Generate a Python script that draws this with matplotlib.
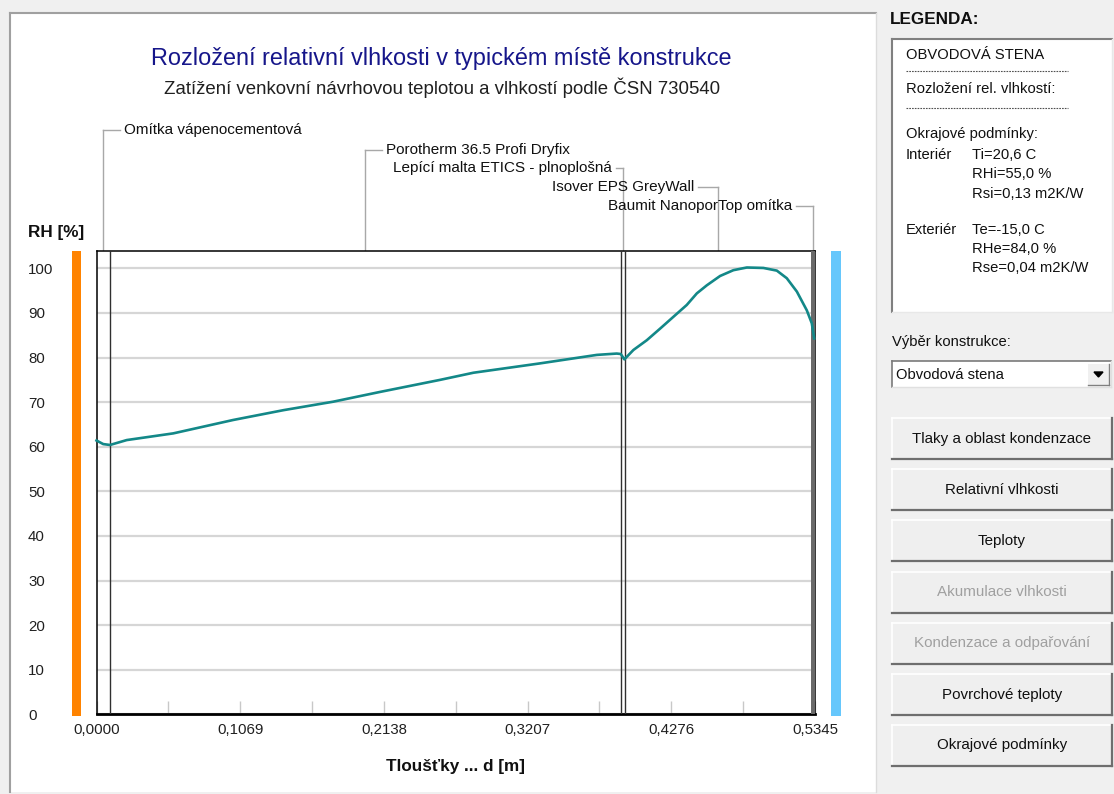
import matplotlib
matplotlib.use("Agg")
import matplotlib.pyplot as plt
from matplotlib.patches import Rectangle
from matplotlib.lines import Line2D

plt.rcParams['font.family'] = ['Liberation Sans', 'DejaVu Sans']

# ---------------- data ----------------
layer_names = ["Omítka vápenocementová", "Porotherm 36.5 Profi Dryfix",
               "Lepící malta ETICS - plnoplošná", "Isover EPS GreyWall",
               "Baumit NanoporTop omítka"]
layer_thickness = [0.010, 0.380, 0.003, 0.1385, 0.003]

d_pos = [0.0000, 0.0050, 0.0100, 0.0225, 0.0571, 0.1016, 0.1390, 0.1760,
         0.2110, 0.2556, 0.2804, 0.3300, 0.3722, 0.3870, 0.3900, 0.3927,
         0.3994, 0.4094, 0.4193, 0.4290, 0.4391, 0.4466, 0.4540, 0.4639,
         0.4738, 0.4838, 0.4961, 0.5061, 0.5135, 0.5210, 0.5284, 0.5321,
         0.5339]
rh_vals = [61.4, 60.6, 60.4, 61.5, 63.0, 66.0, 68.2, 70.1,
           72.3, 75.0, 76.6, 78.7, 80.6, 80.9, 80.8, 79.6,
           81.7, 83.9, 86.5, 89.1, 91.8, 94.4, 96.2, 98.3,
           99.6, 100.2, 100.1, 99.5, 97.8, 94.8, 90.6, 87.7,
           84.3]

y_ticks = [0, 10, 20, 30, 40, 50, 60, 70, 80, 90, 100]
x_ticks = [0.0000, 0.1069, 0.2138, 0.3207, 0.4276, 0.5345]
x_tick_labels = ["0,0000", "0,1069", "0,2138", "0,3207", "0,4276", "0,5345"]
x_minor = [0.05345, 0.16035, 0.26725, 0.37415, 0.48105]

title = "Rozložení relativní vlhkosti v typickém místě konstrukce"
subtitle = "Zatížení venkovní návrhovou teplotou a vlhkostí podle ČSN 730540"
legend_lines = ["OBVODOVÁ STENA", "Rozložení rel. vlhkostí:", "Okrajové podmínky:"]
interior = ["Ti=20,6 C", "RHi=55,0 %", "Rsi=0,13 m2K/W"]
exterior = ["Te=-15,0 C", "RHe=84,0 %", "Rse=0,04 m2K/W"]
buttons = ["Tlaky a oblast kondenzace", "Relativní vlhkosti", "Teploty",
           "Akumulace vlhkosti", "Kondenzace a odpařování",
           "Povrchové teploty", "Okrajové podmínky"]
buttons_enabled = [True, True, True, False, False, True, True]

# ---------------- figure ----------------
W, H = 1114, 794
fig = plt.figure(figsize=(W / 100, H / 100), dpi=100)
fig.patch.set_facecolor('#f0f0f0')

bg = fig.add_axes([0, 0, 1, 1], zorder=0)
bg.set_xlim(0, W)
bg.set_ylim(H, 0)
bg.axis('off')

def rect(x0, y0, x1, y1, fc, ec='none', lw=0, z=1):
    bg.add_patch(Rectangle((x0, y0), x1 - x0, y1 - y0, facecolor=fc,
                           edgecolor=ec, linewidth=lw, zorder=z))

def line(xs, ys, c, lw=1.0, z=2, ls='-'):
    bg.add_line(Line2D(xs, ys, color=c, linewidth=lw, zorder=z, linestyle=ls))

# white chart panel with sunken border
rect(10, 13, 876, 792, 'white')
line([10, 10], [792, 13], '#a0a0a0', 1.5)
line([10, 876], [13, 13], '#a0a0a0', 1.5)
line([876, 876], [13, 792], '#dcdcdc', 1.0)

# main axes
L, R, T, B = 96.5, 815.0, 251.0, 714.3
ax = fig.add_axes([L / W, 1 - B / H, (R - L) / W, (B - T) / H], zorder=2)
ax.set_facecolor('white')
ax.set_xlim(0, sum(layer_thickness))
ax.set_ylim(0, 103.9)
for s in ax.spines.values():
    s.set_color('black')
    s.set_linewidth(1.1)
ax.spines['bottom'].set_linewidth(2.0)

ax.set_yticks(y_ticks)
ax.set_yticklabels([str(v) for v in y_ticks])
for lab in ax.get_yticklabels():
    lab.set_horizontalalignment('left')
ax.tick_params(axis='y', length=0, pad=(L - 28) / 1.389, labelsize=10.8, labelcolor='#202020')
ax.set_xticks(x_ticks)
ax.set_xticklabels(x_tick_labels)
ax.set_xticks(x_minor, minor=True)
ax.tick_params(axis='x', which='both', direction='in', length=9.5, width=1,
               color='#c8c8c8', pad=6.5, labelsize=10.8, labelcolor='#202020')
ax.yaxis.grid(True, color='#d6d6d6', linewidth=1.6)
ax.set_axisbelow(True)

# layer boundaries
bounds = []
acc = 0.0
for t in layer_thickness:
    acc += t
    bounds.append(acc)
for b in bounds[:-2]:
    ax.axvline(b, color='#303030', linewidth=1.0, zorder=3)
ax.axvspan(bounds[-2], bounds[-1], color='#6a6a6a', zorder=3, linewidth=0)

ax.plot(d_pos, rh_vals, color='#138888', linewidth=1.9, zorder=4, clip_on=False,
        solid_joinstyle='round')

ax.text(0.5, -0.113, "Tloušťky ... d [m]", transform=ax.transAxes, ha='center',
        va='center', fontsize=12.3, fontweight='bold', color='#101010')

# boundary bars
rect(72, 251, 81, 716, '#ff8300', z=1)
rect(831, 251, 841, 716, '#66c7fc', z=1)

bg.text(28, 233, "RH [%]", fontsize=12.3, fontweight='bold', va='center', ha='left', color='#101010')
bg.text(441, 58, title, fontsize=16.9, color='#16168a', ha='center', va='center')
bg.text(442, 88, subtitle, fontsize=13.4, color='#202020', ha='center', va='center')

# layer leader labels
fig.canvas.draw()
mids = []
acc = 0.0
for t in layer_thickness:
    mids.append(ax.transData.transform((acc + t / 2, 0))[0])
    acc += t
mids[-1] = R - 2
label_y = [130, 150, 168, 187, 206]
label_side = ['r', 'r', 'l', 'l', 'l']
leader_len = [17, 17, 7, 20, 17]
lead_c = '#a8a8a8'
for name, mx, ly, side, ll in zip(layer_names, mids, label_y, label_side, leader_len):
    line([mx, mx], [T, ly], lead_c, 1.0)
    if side == 'r':
        line([mx, mx + ll], [ly, ly], lead_c, 1.0)
        bg.text(mx + ll + 4, ly, name, fontsize=11, ha='left', va='center', color='#101010')
    else:
        line([mx, mx - ll], [ly, ly], lead_c, 1.0)
        bg.text(mx - ll - 4, ly, name, fontsize=11, ha='right', va='center', color='#101010')

# ---------------- right panel ----------------
bg.text(890, 19, "LEGENDA:", fontsize=12.3, fontweight='bold', va='center', ha='left', color='#101010')
rect(892, 39, 1112, 312, 'white')
line([892, 892], [312, 39], '#808080', 1.5)
line([892, 1112], [39, 39], '#808080', 1.5)
line([1112, 1112], [39, 312], '#e8e8e8', 1.0)
line([892, 1112], [312, 312], '#e8e8e8', 1.0)
fs = 10.6
bg.text(906, 55, legend_lines[0], fontsize=fs, va='center', ha='left', color='#101010')
line([906, 1068], [71, 71], '#505050', 0.8, ls=(0, (1.5, 1)))
bg.text(906, 89, legend_lines[1], fontsize=fs, va='center', ha='left', color='#101010')
line([906, 1068], [108, 108], '#505050', 0.8, ls=(0, (1.5, 1)))
bg.text(906, 134, legend_lines[2], fontsize=fs, va='center', ha='left', color='#101010')
bg.text(906, 155, "Interiér", fontsize=fs, va='center', ha='left', color='#101010')
for i, s in enumerate(interior):
    bg.text(972, 155 + 19.5 * i, s, fontsize=fs, va='center', ha='left', color='#101010')
bg.text(906, 230, "Exteriér", fontsize=fs, va='center', ha='left', color='#101010')
for i, s in enumerate(exterior):
    bg.text(972, 230 + 19 * i, s, fontsize=fs, va='center', ha='left', color='#101010')

bg.text(892, 342, "Výběr konstrukce:", fontsize=fs, va='center', ha='left', color='#101010')
rect(892, 361, 1111, 387, 'white')
line([892, 892], [387, 361], '#7a7a7a', 1.2)
line([892, 1111], [361, 361], '#7a7a7a', 1.2)
line([1111, 1111], [361, 387], '#e0e0e0', 1.0)
line([892, 1111], [387, 387], '#e0e0e0', 1.0)
bg.text(896, 375, "Obvodová stena", fontsize=fs, va='center', ha='left', color='#101010')
rect(1088, 364, 1109, 385, '#f0f0f0')
line([1088, 1109], [385, 385], '#808080', 1.0)
line([1109, 1109], [364, 385], '#808080', 1.0)
bg.fill([1094, 1103, 1098.5], [372, 372, 377], color='black', zorder=3)

btn_top = [418, 469, 520, 572, 623, 674, 725]
for lab, en, y0 in zip(buttons, buttons_enabled, btn_top):
    y1 = y0 + 41
    rect(892, y0, 1112, y1, '#efefef')
    line([892, 1112], [y0, y0], '#ffffff', 1.2)
    line([892, 892], [y0, y1], '#ffffff', 1.2)
    line([892, 1112], [y1, y1], '#6e6e6e', 1.6)
    line([1112, 1112], [y0, y1], '#6e6e6e', 1.6)
    bg.text(1002, (y0 + y1) / 2, lab, fontsize=10.9, ha='center', va='center',
            color='#101010' if en else '#a0a0a0')

fig.savefig("out.png", dpi=100, facecolor=fig.get_facecolor())
